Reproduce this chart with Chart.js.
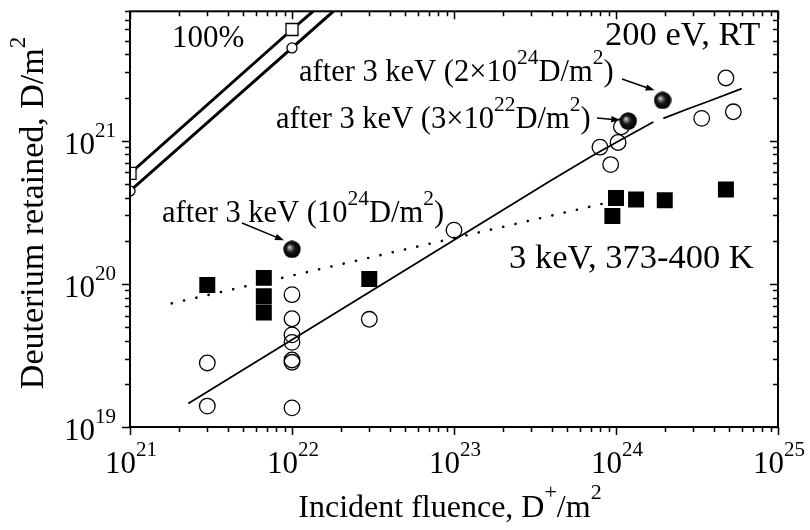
<!DOCTYPE html>
<html><head><meta charset="utf-8">
<script src="https://cdn.jsdelivr.net/npm/chart.js@4.4.1/dist/chart.umd.min.js"></script>
<style>html,body{margin:0;padding:0;background:#fff;}canvas{display:block;}</style>
</head><body>
<canvas id="c" width="810" height="530"></canvas>
<script>
// ---- data ----
// 200 eV, RT (open circles)
const rtFluence  = [3e21, 3e21, 1e22, 1e22, 1e22, 1e22, 1e22, 1e22, 1e22, 3e22, 1e23, 7.96e23, 9.27e23, 1.03e24, 1.08e24, 3.38e24, 4.77e24, 5.3e24];
const rtRetained = [2.8e19, 1.4e19, 8.4e19, 5.7e19, 4.4e19, 3.9e19, 2.94e19, 2.83e19, 1.36e19, 5.65e19, 2.37e20, 9.0e20, 6.8e20, 9.7e20, 1.25e21, 1.43e21, 2.74e21, 1.59e21];
// 3 keV, 373-400 K (filled squares)
const keVFluence  = [3e21, 6.7e21, 6.7e21, 6.7e21, 3e22, 9.5e23, 1e24, 1.33e24, 2e24, 4.77e24];
const keVRetained = [9.8e19, 1.1e20, 8.2e19, 6.3e19, 1.08e20, 2.97e20, 3.98e20, 3.88e20, 3.84e20, 4.56e20];
// 200 eV after 3 keV pre-irradiation (spheres)
const afterFluence  = [1e22, 1.19e24, 1.94e24];
const afterRetained = [1.74e20, 1.37e21, 1.91e21];
// fit through 200 eV data (solid line, gap near the sphere)
const fitRtFluence  = [2.29e21, 4.01e23, 7.24e23, 1.06e24, 1.70e24, 1.8e24, 1.96e24, 2.79e24, 3.63e24, 5.97e24];
const fitRtRetained = [1.46e19, 5.30e20, 7.91e20, 1.007e21, 1.35e21, null, 1.43e21, 1.67e21, 1.86e21, 2.31e21];
// fit through 3 keV data (dotted line)
const fitKeVFluence  = [1.81e21, 8.97e23];
const fitKeVRetained = [7.3e19, 3.7e20];
// 100% retention lines
const fullFluenceSq   = [1e21, 1e22, 1.35e22];
const fullRetainedSq  = [5.9e20, 5.97e21, 8e21];
const fullFluenceCi   = [1e21, 1e22, 1.8e22];
const fullRetainedCi  = [4.45e20, 4.44e21, 8e21];
// axes
const xMin = 1e21, xMax = 1e25, yMin = 1e19, yMax = 8e21;
const xTickExps = [21, 22, 23, 24, 25];
const yTickExps = [19, 20, 21];
const xTitle = [['Incident fluence, D', 0], ['+', 1], ['/m', 0], ['2', 1]];
const yTitle = [['Deuterium retained, D/m', 0], ['2', 1]];

const pts = (xs, ys) => xs.map((x, i) => ({x: x, y: ys[i]}));
const FONT = '"Liberation Serif", "Times New Roman", serif';

// sphere marker
function makeSphere(d) {
  const c = document.createElement('canvas');
  c.width = d; c.height = d;
  const g = c.getContext('2d');
  const r = d / 2;
  const grad = g.createRadialGradient(r - r * 0.3, r - r * 0.25, 0, r, r, r);
  grad.addColorStop(0, '#f0f0f0');
  grad.addColorStop(0.2, '#808080');
  grad.addColorStop(0.5, '#151515');
  grad.addColorStop(1, '#000');
  g.fillStyle = grad;
  g.beginPath(); g.arc(r, r, r - 0.3, 0, Math.PI * 2); g.fill();
  return c;
}
const sphere = makeSphere(18);

function drawRich(ctx, parts, x, y, o) {
  let w = 0;
  parts.forEach(p => {
    ctx.font = (p[1] ? o.sup : o.size) + 'px ' + FONT;
    w += ctx.measureText(p[0]).width;
  });
  let cx = x;
  if (o.align === 'center') cx = x - w / 2;
  else if (o.align === 'right') cx = x - w;
  ctx.textAlign = 'left';
  ctx.textBaseline = 'alphabetic';
  parts.forEach(p => {
    ctx.font = (p[1] ? o.sup : o.size) + 'px ' + FONT;
    ctx.fillText(p[0], cx, p[1] ? y - o.rise : y);
    cx += ctx.measureText(p[0]).width;
  });
}

function arrow(ctx, x1, y1, x2, y2) {
  const a = Math.atan2(y2 - y1, x2 - x1);
  const L = 9, W = 3.2;
  ctx.beginPath();
  ctx.moveTo(x1, y1);
  ctx.lineTo(x2 - L * 0.8 * Math.cos(a), y2 - L * 0.8 * Math.sin(a));
  ctx.lineWidth = 1.5; ctx.stroke();
  ctx.beginPath();
  ctx.moveTo(x2, y2);
  ctx.lineTo(x2 - L * Math.cos(a) + W * Math.sin(a), y2 - L * Math.sin(a) - W * Math.cos(a));
  ctx.lineTo(x2 - L * Math.cos(a) - W * Math.sin(a), y2 - L * Math.sin(a) + W * Math.cos(a));
  ctx.closePath(); ctx.fill();
}

const framePlugin = {
  id: 'frame',
  afterDraw(chart) {
    const ctx = chart.ctx, a = chart.chartArea;
    const xs = chart.scales.x, ys = chart.scales.y;
    ctx.save();
    ctx.strokeStyle = '#000'; ctx.fillStyle = '#000';
    // frame
    ctx.lineWidth = 2;
    ctx.strokeRect(a.left, a.top, a.right - a.left, a.bottom - a.top);
    // ticks
    ctx.lineWidth = 1.5;
    ctx.beginPath();
    for (let e = xTickExps[0]; e <= xTickExps[xTickExps.length - 1]; e++) {
      for (let m = 1; m <= 9; m++) {
        const v = m * Math.pow(10, e);
        if (v > xMax * 1.0001) break;
        const px = Math.round(xs.getPixelForValue(v)) + 0.5;
        const len = m === 1 ? 8 : 5;
        ctx.moveTo(px, a.bottom); ctx.lineTo(px, a.bottom + len);
        ctx.moveTo(px, a.top); ctx.lineTo(px, a.top + len);
      }
    }
    for (let e = yTickExps[0]; e <= 22; e++) {
      for (let m = 1; m <= 9; m++) {
        const v = m * Math.pow(10, e);
        if (v > yMax * 1.0001) break;
        const py = Math.round(ys.getPixelForValue(v)) + 0.5;
        const len = m === 1 ? 8 : 5;
        ctx.moveTo(a.left, py); ctx.lineTo(a.left - len, py);
        ctx.moveTo(a.right, py); ctx.lineTo(a.right - len, py);
      }
    }
    ctx.stroke();
    // tick labels
    const tl = {size: 31, sup: 21, rise: 17, align: 'center'};
    xTickExps.forEach(e => {
      const px = xs.getPixelForValue(Math.pow(10, e));
      drawRich(ctx, [['10', 0], [String(e), 1]], px + 1, a.bottom + 46, tl);
    });
    yTickExps.forEach(e => {
      const py = ys.getPixelForValue(Math.pow(10, e));
      drawRich(ctx, [['10', 0], [String(e), 1]], a.left - 14, py + 13, {size: 31, sup: 21, rise: 17, align: 'right'});
    });
    // axis titles
    drawRich(ctx, xTitle, (a.left + a.right) / 2 - 4, 517, {size: 32, sup: 22, rise: 18, align: 'center'});
    ctx.save();
    ctx.translate(43, 213);
    ctx.rotate(-Math.PI / 2);
    drawRich(ctx, yTitle, 0, 0, {size: 34, sup: 23, rise: 18, align: 'center'});
    ctx.restore();
    // annotations
    const big = {size: 34.5, sup: 23, rise: 16, align: 'left'};
    drawRich(ctx, [['100%', 0]], 172, 47, {size: 31, sup: 21, rise: 16, align: 'left'});
    drawRich(ctx, [['200 eV, RT', 0]], 605, 45, big);
    drawRich(ctx, [['3 keV, 373-400 K', 0]], 509, 268, big);
    const ann = {size: 30.5, sup: 21.5, rise: 17, align: 'left'};
    drawRich(ctx, [['after 3 keV (2\u00d710', 0], ['24', 1], ['D/m', 0], ['2', 1], [')', 0]], 299, 81, ann);
    drawRich(ctx, [['after 3 keV (3\u00d710', 0], ['22', 1], ['D/m', 0], ['2', 1], [')', 0]], 276, 128, ann);
    drawRich(ctx, [['after 3 keV (10', 0], ['24', 1], ['D/m', 0], ['2', 1], [')', 0]], 162, 222, ann);
    // arrows pointing to spheres
    const sp = afterFluence.map((f, i) => [xs.getPixelForValue(f), ys.getPixelForValue(afterRetained[i])]);
    arrow(ctx, 622, 79, sp[2][0] - 8, sp[2][1] - 10);
    arrow(ctx, 597, 118, sp[1][0] - 8, sp[1][1] - 1);
    arrow(ctx, 242, 223, sp[0][0] - 8, sp[0][1] - 9);
    ctx.restore();
  }
};

new Chart(document.getElementById('c'), {
  type: 'scatter',
  data: {
    datasets: [
      {label: 'after 3 keV', data: pts(afterFluence, afterRetained), pointStyle: sphere, pointRadius: 9, showLine: false},
      {label: '200 eV, RT', data: pts(rtFluence, rtRetained), pointStyle: 'circle', pointRadius: 7.8,
       pointBorderWidth: 1.3, borderColor: '#000', backgroundColor: 'rgba(0,0,0,0)', showLine: false},
      {label: '3 keV, 373-400 K', data: pts(keVFluence, keVRetained), pointStyle: 'rect', pointRadius: 11.3,
       pointBorderWidth: 0, borderColor: '#000', backgroundColor: '#000', showLine: false},
      {label: 'fit 200 eV', data: pts(fitRtFluence, fitRtRetained), showLine: true, spanGaps: false,
       borderColor: '#000', borderWidth: 1.8, pointRadius: 0, fill: false},
      {label: 'fit 3 keV', data: pts(fitKeVFluence, fitKeVRetained), showLine: true,
       borderColor: '#000', borderWidth: 2.6, borderDash: [0.1, 12.5], borderCapStyle: 'round', pointRadius: 0, fill: false},
      {label: '100% sq', data: pts(fullFluenceSq, fullRetainedSq), showLine: true, clip: 0,
       borderColor: '#000', borderWidth: 3, pointStyle: 'rect', pointRadius: [8.5, 8.5, 0],
       pointBorderWidth: 1.3, pointBackgroundColor: '#fff', pointBorderColor: '#000'},
      {label: '100% ci', data: pts(fullFluenceCi, fullRetainedCi), showLine: true, clip: 0,
       borderColor: '#000', borderWidth: 3, pointStyle: 'circle', pointRadius: [5, 5, 0],
       pointBorderWidth: 1.3, pointBackgroundColor: '#fff', pointBorderColor: '#000'}
    ]
  },
  options: {
    responsive: false, animation: false, devicePixelRatio: 1,
    layout: {padding: {left: 130, right: 32, top: 10, bottom: 103}},
    plugins: {legend: {display: false}, tooltip: {enabled: false}},
    scales: {
      x: {type: 'logarithmic', min: xMin, max: xMax,
          grid: {display: false, drawTicks: false}, border: {display: false}, ticks: {display: false}},
      y: {type: 'logarithmic', min: yMin, max: yMax,
          grid: {display: false, drawTicks: false}, border: {display: false}, ticks: {display: false}}
    }
  },
  plugins: [framePlugin]
});
</script>
</body></html>
